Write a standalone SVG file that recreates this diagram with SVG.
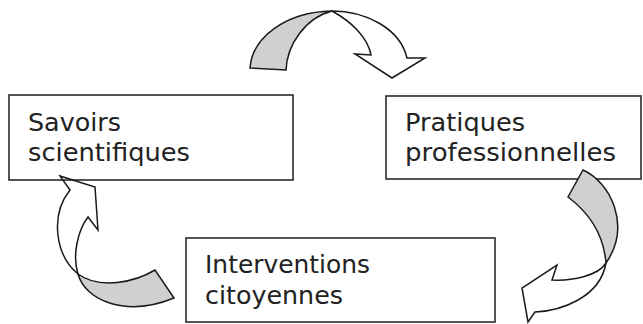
<svg xmlns="http://www.w3.org/2000/svg" width="643" height="324" viewBox="0 0 643 324">
<style>
.box{fill:none;stroke:#2a2a2a;stroke-width:1.6}
.lbl{font-family:"DejaVu Sans","Liberation Sans",sans-serif;font-size:25px;fill:#222}
.back{fill:#d0d0d0;stroke:#1a1a1a;stroke-width:1.5;stroke-linejoin:miter}
.front{fill:none;stroke:#1a1a1a;stroke-width:1.5;stroke-linejoin:miter}
</style>
<rect width="643" height="324" fill="#fff"/>
<g id="node-savoirs">
  <rect class="box" x="9" y="95" width="284" height="85"/>
  <text class="lbl" x="28" y="130.5" textLength="93" lengthAdjust="spacingAndGlyphs">Savoirs</text>
  <text class="lbl" x="28" y="160.5" textLength="162" lengthAdjust="spacingAndGlyphs">scientifiques</text>
</g>
<g id="node-pratiques">
  <rect class="box" x="386" y="96" width="255" height="83"/>
  <text class="lbl" x="405" y="130.5" textLength="120" lengthAdjust="spacingAndGlyphs">Pratiques</text>
  <text class="lbl" x="405" y="160.5" textLength="211" lengthAdjust="spacingAndGlyphs">professionnelles</text>
</g>
<g id="node-interventions">
  <rect class="box" x="186" y="238" width="309" height="84"/>
  <text class="lbl" x="205" y="273" textLength="165" lengthAdjust="spacingAndGlyphs">Interventions</text>
  <text class="lbl" x="205" y="304" textLength="138" lengthAdjust="spacingAndGlyphs">citoyennes</text>
</g>
<g id="connectors">
  <g id="arrow-top">
    <path class="back" d="M250,68 C252,38 285,12 332,11 C305,18 287,45 286,70 Z"/>
    <path class="front" d="M332,11 C365,11 400,28 407,58 L425,58 L392,78 L355,54 L371,55 C368,38 352,22 332,11 Z"/>
  </g>
  <g id="arrow-right">
    <path class="back" d="M583,170 C610,182 632,225 606,263 C604,238 592,215 568,197 Z"/>
    <path class="front" d="M606,263 C598,276 572,281 552,280 L557,265 L522,288 L528,322 L535,312 C560,311 600,298 606,263 Z"/>
  </g>
  <g id="arrow-left">
    <path class="back" d="M155,270 C135,282 100,290 78,274 C85,300 125,318 174,298 Z"/>
    <path class="front" d="M78,274 C55,255 50,215 70,190 L60,176 L95,187 L98,230 L88,217 C78,230 72,255 78,274 Z"/>
  </g>
</g>
</svg>
